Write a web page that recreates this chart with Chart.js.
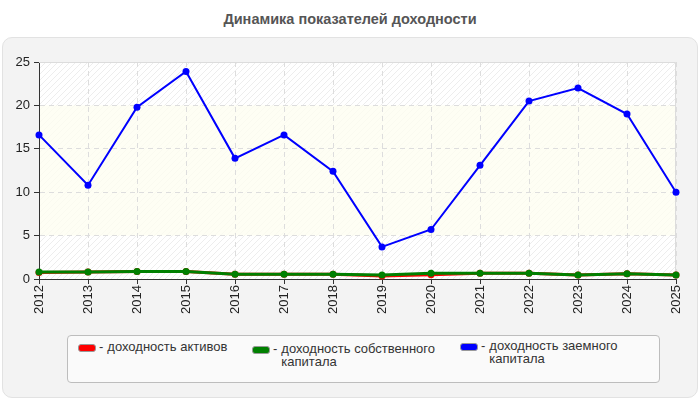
<!DOCTYPE html>
<html>
<head>
<meta charset="utf-8">
<script src="https://cdn.jsdelivr.net/npm/chart.js@4"></script>
<style>
  html, body { margin:0; padding:0; background:#fff; }
  #wrap { position:relative; width:700px; height:400px; font-family:"Liberation Sans", Arial, sans-serif; }
  #panel { position:absolute; left:2px; top:37px; width:694px; height:359px; background:#f3f3f3; border:1px solid #e2e2e2; border-radius:10px; }
  #title { position:absolute; left:0; top:11px; width:700px; text-align:center; font-weight:bold; font-size:14.5px; color:#555; }
  canvas { position:absolute; left:0; top:0; }
  #legend { position:absolute; left:67px; top:335px; width:591px; height:46px; background:#fafafa; border:1px solid #bdbdbd; border-radius:4px; }
  .item { position:absolute; display:flex; align-items:flex-start; font-size:13px; color:#333; line-height:12.5px; }
  .sw { width:16px; height:6px; border:1px solid #999; border-radius:3px; margin-top:3px; margin-right:3px; }
  .dash { margin-right:4px; }
</style>
</head>
<body>
<div id="wrap">
  <div id="panel"></div>
  <div id="title"></div>
  <canvas id="c" width="700" height="400"></canvas>
  <div id="legend"></div>
</div>
<script>
const chartTitle = "Динамика показателей доходности";
const years = ["2012","2013","2014","2015","2016","2017","2018","2019","2020","2021","2022","2023","2024","2025"];
const assetsReturn = [0.75,0.8,0.85,0.85,0.55,0.55,0.55,0.35,0.5,0.65,0.65,0.45,0.6,0.45];
const equityReturn = [0.8,0.8,0.85,0.85,0.55,0.55,0.55,0.45,0.65,0.65,0.65,0.45,0.6,0.45];
const borrowedReturn = [16.6,10.8,19.8,23.9,13.9,16.6,12.4,3.7,5.7,13.1,20.5,22.0,19.0,10.0];
const seriesLabels = [["доходность активов"],["доходность собственного","капитала"],["доходность заемного","капитала"]];
const seriesColors = ["#ff0000","#008000","#0000ff"];
const yTicks = [0,5,10,15,20,25];

document.getElementById('title').textContent = chartTitle;

// legend
const legendPos = [[10,5],[184,7],[392,4]];
const legend = document.getElementById('legend');
seriesLabels.forEach((lines, i) => {
  const it = document.createElement('div');
  it.className = 'item';
  it.style.left = legendPos[i][0] + 'px';
  it.style.top = legendPos[i][1] + 'px';
  const sw = document.createElement('div'); sw.className = 'sw'; sw.style.background = seriesColors[i];
  const d = document.createElement('span'); d.className = 'dash'; d.textContent = '-';
  const t = document.createElement('span'); t.innerHTML = lines.join('<br>');
  it.appendChild(sw); it.appendChild(d); it.appendChild(t);
  legend.appendChild(it);
});

// hatch pattern
const pc = document.createElement('canvas'); pc.width = 6; pc.height = 6;
const pctx = pc.getContext('2d');
pctx.strokeStyle = '#ededed'; pctx.lineWidth = 1;
pctx.beginPath(); pctx.moveTo(0,6); pctx.lineTo(6,0); pctx.moveTo(-1,1); pctx.lineTo(1,-1); pctx.moveTo(5,7); pctx.lineTo(7,5); pctx.stroke();

const bgPlugin = {
  id: 'bg',
  beforeDraw(chart) {
    const {ctx, chartArea: a, scales: {y}} = chart;
    ctx.save();
    ctx.fillStyle = '#fff';
    ctx.fillRect(a.left, a.top, a.right - a.left, a.bottom - a.top);
    ctx.fillStyle = ctx.createPattern(pc, 'repeat');
    ctx.fillRect(a.left, a.top, a.right - a.left, a.bottom - a.top);
    const y20 = y.getPixelForValue(20), y5 = y.getPixelForValue(5);
    ctx.fillStyle = 'rgba(253,253,240,0.75)';
    ctx.fillRect(a.left, y20, a.right - a.left, y5 - y20);
    ctx.restore();
  },
  beforeDatasetsDraw(chart) {
    const {ctx, chartArea: a} = chart;
    ctx.save();
    ctx.strokeStyle = '#dcdcdc'; ctx.lineWidth = 1;
    ctx.beginPath();
    ctx.moveTo(a.left, a.top + 0.5); ctx.lineTo(a.right - 0.5, a.top + 0.5); ctx.lineTo(a.right - 0.5, a.bottom);
    ctx.stroke();
    ctx.restore();
  }
};

const font = { family: '"Liberation Sans", Arial, sans-serif', size: 13 };

new Chart(document.getElementById('c'), {
  type: 'line',
  data: {
    labels: years,
    datasets: [
      { label: seriesLabels[0].join(' '), data: assetsReturn, borderColor: seriesColors[0], backgroundColor: seriesColors[0], borderWidth: 3, pointRadius: 3.5, pointBorderWidth: 0, order: 2 },
      { label: seriesLabels[1].join(' '), data: equityReturn, borderColor: seriesColors[1], backgroundColor: seriesColors[1], borderWidth: 3, pointRadius: 3.5, pointBorderWidth: 0, order: 1 },
      { label: seriesLabels[2].join(' '), data: borrowedReturn, borderColor: seriesColors[2], backgroundColor: seriesColors[2], borderWidth: 2, pointRadius: 3.5, pointBorderWidth: 0, order: 0 }
    ]
  },
  options: {
    responsive: false,
    animation: false,
    devicePixelRatio: 1,
    clip: false,
    layout: { padding: { top: 62, left: 0, right: 24, bottom: 0 } },
    plugins: { legend: { display: false }, title: { display: false }, tooltip: { enabled: false } },
    elements: { line: { tension: 0 } },
    scales: {
      x: {
        offset: false,
        afterFit(s) { s.height = 121; },
        grid: { color: '#dddddd', lineWidth: 1, drawTicks: true, tickLength: 5, tickColor: '#333', tickBorderDash: [] },
        border: { display: true, color: '#333', width: 1, dash: [5, 4] },
        ticks: { color: '#222', font, minRotation: 90, maxRotation: 90, padding: 1, autoSkip: false }
      },
      y: {
        min: 0, max: 25,
        afterFit(s) { s.width = 39; },
        afterBuildTicks(s) { s.ticks = yTicks.map(v => ({ value: v })); },
        grid: { color: '#dddddd', lineWidth: 1, drawTicks: true, tickLength: 5, tickColor: '#333', tickBorderDash: [] },
        border: { display: true, color: '#333', width: 1, dash: [5, 4] },
        ticks: { color: '#222', font, padding: 4 }
      }
    }
  },
  plugins: [bgPlugin]
});
</script>
</body>
</html>
